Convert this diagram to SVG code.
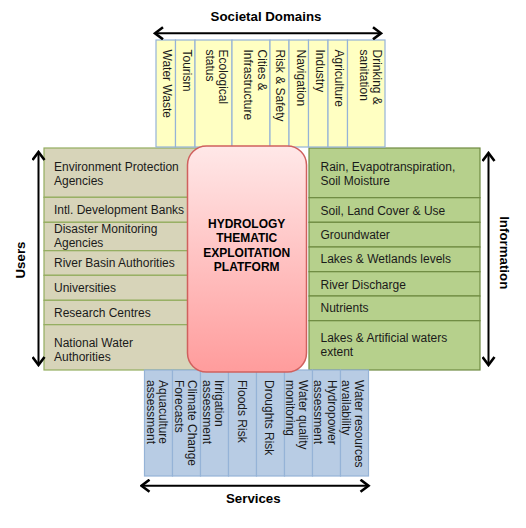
<svg xmlns="http://www.w3.org/2000/svg" width="526" height="528" viewBox="0 0 526 528">
<defs>
<linearGradient id="pinkGrad" x1="0" y1="0" x2="0" y2="1">
<stop offset="0" stop-color="#ffe8e8"/>
<stop offset="1" stop-color="#ff9c9c"/>
</linearGradient>
<marker id="chev" viewBox="0 0 12 14" markerWidth="12" markerHeight="14" refX="10" refY="7" orient="auto-start-reverse" markerUnits="userSpaceOnUse">
<path d="M2,1 L10,7 L2,13" fill="none" stroke="#000" stroke-width="2.6"/>
</marker>
</defs>
<style>
text{font-family:"Liberation Sans",Arial,sans-serif;font-size:12px;fill:#1a1a1a}
.lbl{font-weight:bold;font-size:13.3px;fill:#000}
.title{font-weight:bold;font-size:12px;fill:#000}
.tan{fill:#d7d4b9;stroke:#93ad5f;stroke-width:1.2}
.grn{fill:#b6d08c;stroke:#6f8b42;stroke-width:1.2}
.yel{fill:#ffffc2;stroke:#95b3d7;stroke-width:1.2}
.blu{fill:#b8cce4;stroke:#95b3d7;stroke-width:1.2}
.arrow{stroke:#000;stroke-width:2;fill:none;marker-start:url(#chev);marker-end:url(#chev)}
</style>
<rect width="526" height="528" fill="#fff"/>

<!-- Users (left) -->
<g id="users">
<g id="u1"><rect class="tan" x="44" y="148" width="206" height="49.3"/><text x="54" y="170.7">Environment Protection</text><text x="54" y="184.5">Agencies</text></g>
<g id="u2"><rect class="tan" x="44" y="197.3" width="206" height="25"/><text x="54" y="214">Intl. Development Banks</text></g>
<g id="u3"><rect class="tan" x="44" y="222.3" width="206" height="28.4"/><text x="54" y="233.3">Disaster Monitoring</text><text x="54" y="247.3">Agencies</text></g>
<g id="u4"><rect class="tan" x="44" y="250.7" width="206" height="24.6"/><text x="54" y="267.3">River Basin Authorities</text></g>
<g id="u5"><rect class="tan" x="44" y="275.3" width="206" height="25"/><text x="54" y="292">Universities</text></g>
<g id="u6"><rect class="tan" x="44" y="300.3" width="206" height="24.4"/><text x="54" y="316.7">Research Centres</text></g>
<g id="u7"><rect class="tan" x="44" y="324.7" width="206" height="45.3"/><text x="54" y="346.7">National Water</text><text x="54" y="360.7">Authorities</text></g>
</g>

<!-- Information (right) -->
<g id="information">
<g id="i1"><rect class="grn" x="309" y="148" width="171" height="49.7"/><text x="320.5" y="170.7">Rain, Evapotranspiration,</text><text x="320.5" y="184.7">Soil Moisture</text></g>
<g id="i2"><rect class="grn" x="309" y="197.7" width="171" height="24.6"/><text x="320.5" y="214.7">Soil, Land Cover &amp; Use</text></g>
<g id="i3"><rect class="grn" x="309" y="222.3" width="171" height="24.7"/><text x="320.5" y="238.7">Groundwater</text></g>
<g id="i4"><rect class="grn" x="309" y="247" width="171" height="24.7"/><text x="320.5" y="263.3">Lakes &amp; Wetlands levels</text></g>
<g id="i5"><rect class="grn" x="309" y="271.7" width="171" height="24.3"/><text x="320.5" y="288.7">River Discharge</text></g>
<g id="i6"><rect class="grn" x="309" y="296" width="171" height="24.7"/><text x="320.5" y="312">Nutrients</text></g>
<g id="i7"><rect class="grn" x="309" y="320.7" width="171" height="49.3"/><text x="320.5" y="342.3">Lakes &amp; Artificial waters</text><text x="320.5" y="356">extent</text></g>
</g>

<!-- Societal Domains (top) -->
<g id="domains">
<g id="d1"><rect class="yel" x="156" y="40" width="19.5" height="107"/><text transform="translate(162.5,49.5) rotate(90)">Water Waste</text></g>
<g id="d2"><rect class="yel" x="175.5" y="40" width="19.5" height="107"/><text transform="translate(182.5,49.5) rotate(90)">Tourism</text></g>
<g id="d3"><rect class="yel" x="195" y="40" width="37" height="107"/><text transform="translate(219.3,49.5) rotate(90)">Ecological</text><text transform="translate(206,49.5) rotate(90)">status</text></g>
<g id="d4"><rect class="yel" x="232" y="40" width="38" height="107"/><text transform="translate(257.7,49.5) rotate(90)">Cities &amp;</text><text transform="translate(244.3,49.5) rotate(90)">Infrastructure</text></g>
<g id="d5"><rect class="yel" x="270" y="40" width="19" height="107"/><text transform="translate(275.5,49.5) rotate(90)">Risk &amp; Safety</text></g>
<g id="d6"><rect class="yel" x="289" y="40" width="19.5" height="107"/><text transform="translate(296.5,49.5) rotate(90)">Navigation</text></g>
<g id="d7"><rect class="yel" x="308.5" y="40" width="19.5" height="107"/><text transform="translate(316,49.5) rotate(90)">Industry</text></g>
<g id="d8"><rect class="yel" x="328" y="40" width="19.5" height="107"/><text transform="translate(335.3,49.5) rotate(90)">Agriculture</text></g>
<g id="d9"><rect class="yel" x="347.5" y="40" width="37.5" height="107"/><text transform="translate(372.7,49.5) rotate(90)">Drinking &amp;</text><text transform="translate(360,49.5) rotate(90)">sanitation</text></g>
</g>

<!-- Services (bottom) -->
<g id="services">
<g id="s1"><rect class="blu" x="144.5" y="370" width="28" height="106"/><text transform="translate(159.3,380) rotate(90)">Aquaculture</text><text transform="translate(146.7,380) rotate(90)">assessment</text></g>
<g id="s2"><rect class="blu" x="172.5" y="370" width="28" height="106"/><text transform="translate(187.7,380) rotate(90)">Climate Change</text><text transform="translate(175.3,380) rotate(90)">Forecasts</text></g>
<g id="s3"><rect class="blu" x="200.5" y="370" width="28" height="106"/><text transform="translate(215.3,380) rotate(90)">Irrigation</text><text transform="translate(203.3,380) rotate(90)">assessment</text></g>
<g id="s4"><rect class="blu" x="228.5" y="370" width="28" height="106"/><text transform="translate(237.7,380) rotate(90)">Floods Risk</text></g>
<g id="s5"><rect class="blu" x="256.5" y="370" width="28" height="106"/><text transform="translate(265.3,380) rotate(90)">Droughts Risk</text></g>
<g id="s6"><rect class="blu" x="284.5" y="370" width="28" height="106"/><text transform="translate(299.3,380) rotate(90)">Water quality</text><text transform="translate(286,380) rotate(90)">monitoring</text></g>
<g id="s7"><rect class="blu" x="312.5" y="370" width="28" height="106"/><text transform="translate(327.7,380) rotate(90)">Hydropower</text><text transform="translate(314.3,380) rotate(90)">assessment</text></g>
<g id="s8"><rect class="blu" x="340.5" y="370" width="28" height="106"/><text transform="translate(355.3,380) rotate(90)">Water resources</text><text transform="translate(342,380) rotate(90)">availability</text></g>
</g>

<!-- Platform (center) -->
<g id="platform">
<rect x="187.5" y="146" width="119" height="226" rx="19" ry="19" fill="url(#pinkGrad)" stroke="#d0605e" stroke-width="1.5"/>
<text class="title" x="246.7" y="228.3" text-anchor="middle">HYDROLOGY</text>
<text class="title" x="246.7" y="242.3" text-anchor="middle">THEMATIC</text>
<text class="title" x="246.7" y="256.7" text-anchor="middle">EXPLOITATION</text>
<text class="title" x="246.7" y="270.7" text-anchor="middle">PLATFORM</text>
</g>

<!-- Connectors (double arrows) -->
<g id="connectors">
<line class="arrow" x1="155" y1="33.3" x2="381" y2="33.3"/>
<line class="arrow" x1="38.5" y1="152" x2="38.5" y2="365"/>
<line class="arrow" x1="488.5" y1="153" x2="488.5" y2="365"/>
<line class="arrow" x1="141.5" y1="485.7" x2="368.5" y2="485.7"/>
</g>

<!-- Axis labels -->
<g id="labels">
<text class="lbl" x="266" y="20.5" text-anchor="middle">Societal Domains</text>
<text class="lbl" transform="translate(24.7,260) rotate(-90)" text-anchor="middle">Users</text>
<text class="lbl" transform="translate(500.3,252.7) rotate(90)" text-anchor="middle">Information</text>
<text class="lbl" x="253.3" y="503.3" text-anchor="middle">Services</text>
</g>
</svg>
